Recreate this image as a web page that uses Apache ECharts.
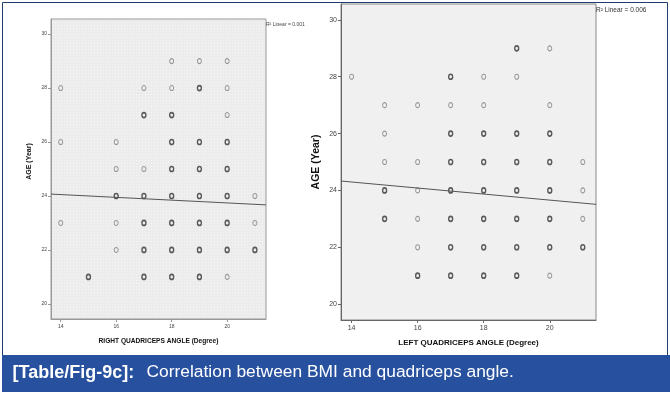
<!DOCTYPE html>
<html><head><meta charset="utf-8">
<script src="https://cdn.jsdelivr.net/npm/echarts@6/dist/echarts.min.js"></script>
<style>html,body{margin:0;padding:0;background:#fff}#c{width:670px;height:394px}</style>
</head><body><div id="c"></div>
<script>
// tick labels
const yTicks = [20, 22, 24, 26, 28, 30];
const xTicks = [14, 16, 18, 20];

// RIGHT quadriceps angle vs age (left panel): single points and overlapping (bold) points
const rightQLight = [[18,29],[19,29],[20,29],[14,28],[17,28],[18,28],[20,28],[20,27],[14,26],[16,26],[16,25],[17,25],[21,24],[14,23],[16,23],[21,23],[16,22],[20,21]];
const rightQBold = [[19,28],[17,27],[18,27],[18,26],[19,26],[20,26],[18,25],[19,25],[20,25],[16,24],[17,24],[18,24],[19,24],[20,24],[17,23],[18,23],[19,23],[20,23],[17,22],[18,22],[19,22],[20,22],[21,22],[15,21],[17,21],[18,21],[19,21]];
const rightQFit = [[13.65,24.07],[21.4,23.67]];
const rightQR2 = '0.001';

// LEFT quadriceps angle vs age (right panel)
const leftQLight = [[20,29],[14,28],[18,28],[19,28],[15,27],[16,27],[17,27],[18,27],[20,27],[15,26],[15,25],[16,25],[21,25],[16,24],[21,24],[16,23],[21,23],[16,22],[20,21]];
const leftQBold = [[19,29],[17,28],[17,26],[18,26],[19,26],[20,26],[17,25],[18,25],[19,25],[20,25],[15,24],[17,24],[18,24],[19,24],[20,24],[15,23],[17,23],[18,23],[19,23],[20,23],[17,22],[18,22],[19,22],[20,22],[21,22],[16,21],[17,21],[18,21],[19,21]];
const leftQFit = [[13.68,24.33],[21.4,23.51]];
const leftQR2 = '0.006';

const captionTag = '[Table/Fig-9c]:';
const captionText = 'Correlation between BMI and quadriceps angle.';

function dotPattern(){
  const c = document.createElement('canvas'); c.width = 3; c.height = 3;
  const g = c.getContext('2d');
  g.fillStyle = '#ececec'; g.fillRect(0,0,3,3);
  g.fillStyle = '#f7f7f7'; g.fillRect(1,1,1,1);
  return c;
}
const sans = "'Liberation Sans',Arial,sans-serif";

function xAx(i, name, fs, nfs, col){
  return {
    gridIndex: i, type: 'value', min: i===0?13.65:13.68, max: 21.4,
    name: name, nameLocation: 'middle', nameGap: 19,
    nameTextStyle: {fontFamily: sans, fontWeight: 'bold', fontSize: nfs, color: '#111'},
    axisLine: {show: true, lineStyle: {color: col}},
    axisTick: {show: true, length: 3, customValues: xTicks, lineStyle: {color: col}},
    axisLabel: {customValues: xTicks, fontSize: fs, fontFamily: sans, color: '#444', margin: 5},
    splitLine: {show: false}
  };
}
function yAx(i, fs, nfs, gap, pad, col){
  return {
    gridIndex: i, type: 'value', min: 19.44, max: 30.56,
    name: 'AGE (Year)', nameLocation: 'middle', nameGap: gap,
    nameTextStyle: {fontFamily: sans, fontWeight: 'bold', fontSize: nfs, color: '#111', padding: pad},
    axisLine: {show: true, lineStyle: {color: col}},
    axisTick: {show: true, length: 3, customValues: yTicks, lineStyle: {color: col}},
    axisLabel: {customValues: yTicks, fontSize: fs, fontFamily: sans, color: '#444', margin: 4},
    splitLine: {show: false}
  };
}
function pts(data, i, bold){
  return {
    type: 'scatter', xAxisIndex: i, yAxisIndex: i, data: data, silent: true,
    symbol: 'circle', symbolSize: [4,5],
    itemStyle: {color: 'transparent', borderColor: bold ? '#333' : '#808080', borderWidth: bold ? 1.5 : 1}
  };
}
function fit(data, i){
  return {type: 'line', xAxisIndex: i, yAxisIndex: i, data: data, showSymbol: false, silent: true,
    lineStyle: {color: '#555', width: 1}};
}

const chart = echarts.init(document.getElementById('c'), null, {renderer: 'canvas'});
chart.setOption({
  animation: false,
  backgroundColor: '#fff',
  grid: [
    {left: 51, top: 19, width: 215, height: 300, show: true, borderColor: '#999', borderWidth: 1,
     backgroundColor: {image: dotPattern(), repeat: 'repeat'}},
    {left: 341, top: 4, width: 255, height: 316, show: true, borderColor: '#888', borderWidth: 1,
     backgroundColor: '#f0f0f0'}
  ],
  xAxis: [
    xAx(0, 'RIGHT QUADRICEPS ANGLE (Degree)', 5, 6.6, '#999'),
    xAx(1, 'LEFT QUADRICEPS ANGLE (Degree)', 7, 8, '#666')
  ],
  yAxis: [
    yAx(0, 5, 7, 18, [0,0,0,15], '#999'),
    yAx(1, 7, 10.5, 19, 0, '#666')
  ],
  series: [
    fit(rightQFit, 0), pts(rightQLight, 0, false), pts(rightQBold, 0, true),
    fit(leftQFit, 1), pts(leftQLight, 1, false), pts(leftQBold, 1, true)
  ],
  graphic: [
    {type: 'rect', shape: {x: 2.5, y: 2.5, width: 665, height: 353}, style: {fill: 'none', stroke: '#1e3d6e', lineWidth: 1}, z: 100, silent: true},
    {type: 'rect', shape: {x: 2, y: 355, width: 668, height: 37}, style: {fill: '#27519e'}, z: 101, silent: true},
    {type: 'text', left: 12.5, top: 364, z: 102, silent: true,
     style: {text: captionTag, fill: '#fff', font: 'bold 18px ' + sans}},
    {type: 'text', left: 146.5, top: 364, z: 102, silent: true,
     style: {text: captionText, fill: '#fff', font: '17.4px ' + sans}},
    {type: 'text', left: 266, top: 22, z: 102, silent: true,
     style: {text: 'R\u00B2 Linear = ' + rightQR2, fill: '#444', font: '5px ' + sans}},
    {type: 'text', left: 596, top: 7, z: 102, silent: true,
     style: {text: 'R\u00B2 Linear = ' + leftQR2, fill: '#333', font: '6.5px ' + sans}}
  ]
});
</script></body></html>
